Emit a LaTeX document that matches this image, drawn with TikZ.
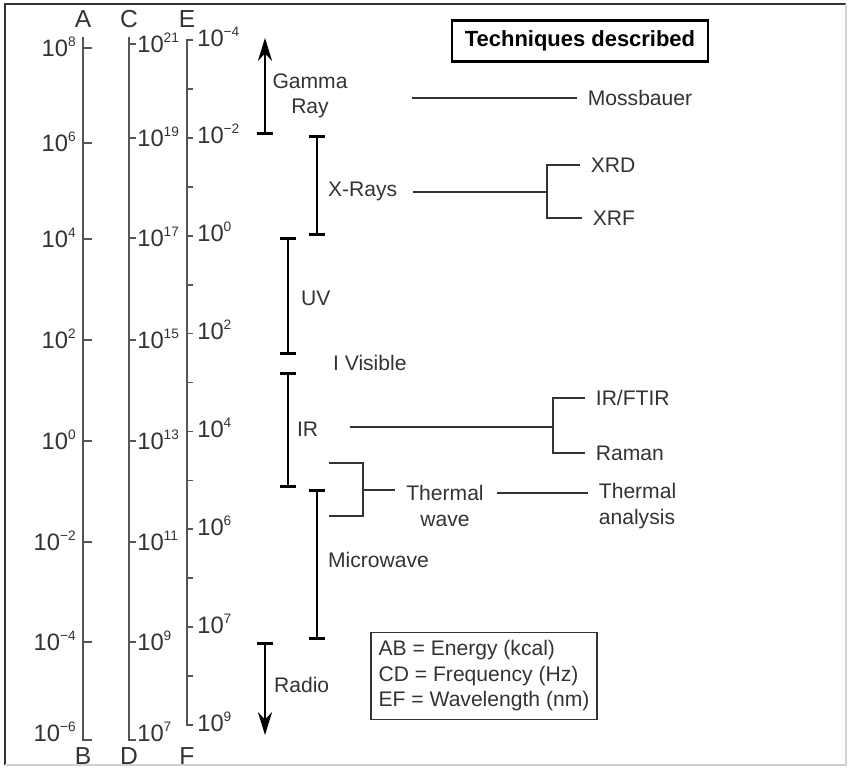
\documentclass[tikz,border=0pt]{standalone}
\usepackage{fontspec}
\setmainfont{Liberation Sans}
\usepackage{xcolor}
\usetikzlibrary{arrows.meta, positioning, calc}

\definecolor{inkgray}{HTML}{333333}
\definecolor{axisgray}{HTML}{555555}
\newcommand{\tenpow}[1]{10\raisebox{0.42em}{\fontsize{7.8}{8}\selectfont #1}}

\begin{document}
\begin{tikzpicture}[
  x=0.02cm, y=-0.02cm,
  >=Stealth,
  % Scale axis
  axisln/.style={line width=1.1pt, draw=axisgray},
  % Scale tick
  tickln/.style={line width=1pt, draw=axisgray},
  % Scale tick label
  ticklbl/.style={font=\fontsize{13.5}{15}\selectfont, text=inkgray, inner sep=0pt},
  % Axis end letter
  axislbl/.style={font=\fontsize{14}{16}\selectfont, text=inkgray, inner sep=0pt},
  % Band bar with caps
  band/.style={line width=1.7pt, draw=black, {Bar[width=9pt]}-{Bar[width=9pt]}},
  % Open band (arrow end)
  openband/.style={line width=1.7pt, draw=black, {Bar[width=9pt]}-{Stealth[length=13pt, width=8pt]}},
  % Band label
  bandlbl/.style={font=\fontsize{12}{14.5}\selectfont, text=inkgray, align=center, inner sep=1pt},
  % Technique connector
  conn/.style={line width=0.9pt, draw=inkgray},
  % Technique label
  techlbl/.style={font=\fontsize{12}{14.5}\selectfont, text=inkgray, align=left, anchor=west, inner xsep=6pt, inner ysep=1pt},
  % Heading box
  headbox/.style={draw=black, line width=1.3pt, font=\fontsize{12.5}{15}\selectfont\bfseries, minimum width=5.12cm, minimum height=0.82cm, inner sep=2pt},
  % Key box
  keybox/.style={draw=inkgray, line width=1pt, font=\fontsize{12}{14.5}\selectfont, text=inkgray, align=left, minimum width=4.52cm, minimum height=1.74cm, inner xsep=4pt, inner ysep=2pt}
]
\useasboundingbox (0,0) rectangle (849,769);

%% Frame
\draw[line width=1.2pt, draw=inkgray] (5,765) -- (5,4) -- (846,4);
\draw[line width=0.8pt, draw=gray!35] (846,4) -- (846,765) -- (5,765);

%% Energy scale (A-B)
\node[axislbl, anchor=base] (A) at (83,27) {A};
\node[axislbl, anchor=base] (B) at (83,764) {B};
\draw[axisln] (83,37) -- (83,740) -- (92,740);
\foreach \yy/\pw [count=\i] in {48/8, 143/6, 239/4, 340/2, 441/0, 542/{−2}, 642/{−4}} {
  \draw[tickln] (83,\yy) -- (92,\yy);
  \node[ticklbl, anchor=base east] (ab\i) at (76,\yy+8) {\tenpow{\pw}};
}
\node[ticklbl, anchor=base east] (ab8) at (76,741) {\tenpow{−6}};

%% Frequency scale (C-D)
\node[axislbl, anchor=base] (C) at (129,27) {C};
\node[axislbl, anchor=base] (D) at (129,764) {D};
\draw[axisln] (129,37) -- (129,740) -- (136,740);
\foreach \yy/\pw [count=\i] in {44/21, 138/19, 238/17, 340/15, 441/13, 542/11, 642/9} {
  \draw[tickln] (129,\yy) -- (136,\yy);
  \node[ticklbl, anchor=base west] (cd\i) at (137,\yy+8) {\tenpow{\pw}};
}
\node[ticklbl, anchor=base west] (cd8) at (137,741) {\tenpow{7}};

%% Wavelength scale (E-F)
\node[axislbl, anchor=base] (E) at (187,27) {E};
\node[axislbl, anchor=base] (F) at (187,764) {F};
\draw[axisln] (193,40) -- (187,40) -- (187,725) -- (193,725);
\foreach \k in {1,...,13}
  \draw[tickln] (187,{40+48.93*\k}) -- (193,{40+48.93*\k});
\foreach \k/\pw in {0/{−4}, 2/{−2}, 4/0, 6/2, 8/4, 10/6, 12/7, 14/9}
  \node[ticklbl, anchor=base west] (ef\k) at (197,{40+48.93*\k+6}) {\tenpow{\pw}};

%% Spectral bands
\draw[openband] (265,135) -- (265,38);
\draw[band] (317,135) -- (317,236);
\draw[band] (288,237) -- (288,355);
\draw[band] (288,372) -- (288,488);
\draw[band] (317,489) -- (317,640);
\draw[openband] (265,642) -- (265,735);

\node[bandlbl] (gamma) at (310,96) {Gamma\\Ray};
\node[bandlbl, anchor=west] (xrays) at (326,191) {X-Rays};
\node[bandlbl, anchor=west] (uv) at (299,298) {UV};
\node[bandlbl, anchor=west] (vis) at (331,363) {I Visible};
\node[bandlbl, anchor=west] (ir) at (295,429) {IR};
\node[bandlbl, anchor=west] (micro) at (326,560) {Microwave};
\node[bandlbl, anchor=west] (radio) at (272,685) {Radio};
\node[bandlbl, inner xsep=6pt] (twave) at (445,506) {Thermal\\wave};

%% Techniques
\node[headbox] (heading) at (580,41) {Techniques described};
\node[techlbl] (moss) at (577,98) {Mossbauer};
\node[techlbl] (xrd) at (580,165) {XRD};
\node[techlbl] (xrf) at (582,218) {XRF};
\node[techlbl] (ftir) at (585,398) {IR/FTIR};
\node[techlbl] (raman) at (585,453) {Raman};
\node[techlbl] (tana) at (588,506) {Thermal\\analysis};

%% Connectors
\coordinate (mossL) at (412,98);
\draw[conn] (mossL) -- (moss.west);

\coordinate (xraysL) at (413,192);
\coordinate (xfork) at (547,192);
\draw[conn] (xraysL) -- (xfork);
\draw[conn] (xrd.west) -| (xfork) |- (xrf.west);

\coordinate (irL) at (350,427);
\coordinate (irfork) at (553,427);
\draw[conn] (irL) -- (irfork);
\draw[conn] (ftir.west) -| (irfork) |- (raman.west);

\coordinate (tbrTop) at (329,463);
\coordinate (tbrBot) at (329,516);
\coordinate (tfork) at (363,490);
\draw[conn] (tbrTop) -| (tfork) |- (tbrBot);
\draw[conn] (tfork) -- (tfork -| twave.west);
\coordinate (tanaL) at (497,493);
\draw[conn] (tanaL) -- (tanaL -| tana.west);

%% Key
\node[keybox] (key) at (484,676) {AB = Energy (kcal)\\CD = Frequency (Hz)\\EF = Wavelength (nm)};

\end{tikzpicture}
\end{document}
